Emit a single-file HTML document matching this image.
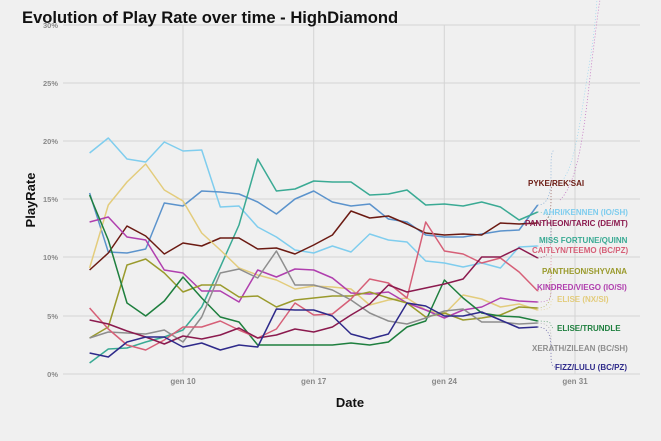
<!DOCTYPE html>
<html><head><meta charset="utf-8"><style>
html,body{margin:0;padding:0;background:#f0f0f0;}
svg{display:block;font-family:"Liberation Sans",sans-serif;}
</style></head><body>
<svg id="s" width="661" height="441" viewBox="0 0 661 441" xmlns="http://www.w3.org/2000/svg">
<rect width="661" height="441" fill="#f0f0f0"/>
<g stroke="#d4d4d4" stroke-width="1">
<line x1="63" y1="25" x2="640" y2="25"/>
<line x1="63" y1="83" x2="640" y2="83"/>
<line x1="63" y1="141" x2="640" y2="141"/>
<line x1="63" y1="199" x2="640" y2="199"/>
<line x1="63" y1="257" x2="640" y2="257"/>
<line x1="63" y1="316" x2="640" y2="316"/>
<line x1="63" y1="374" x2="640" y2="374"/>
<line x1="183" y1="25" x2="183" y2="374"/>
<line x1="313.7" y1="25" x2="313.7" y2="374"/>
<line x1="444.3" y1="25" x2="444.3" y2="374"/>
<line x1="575" y1="25" x2="575" y2="374"/>
</g>
<g font-size="7.5" font-weight="bold" fill="#8a8a8a" text-anchor="end">
<text x="58" y="28">30%</text><text x="58" y="86">25%</text><text x="58" y="144">20%</text>
<text x="58" y="202">15%</text><text x="58" y="260">10%</text><text x="58" y="319">5%</text><text x="58" y="377">0%</text>
</g>
<g font-size="8" font-weight="bold" fill="#8a8a8a" text-anchor="middle">
<text x="183" y="384">gen 10</text><text x="313.7" y="384">gen 17</text><text x="444.3" y="384">gen 24</text><text x="575" y="384">gen 31</text>
</g>
<text x="22" y="23" font-size="16.6" font-weight="bold" fill="#111">Evolution of Play Rate over time - HighDiamond</text>
<text x="350" y="407" font-size="13" font-weight="bold" fill="#111" text-anchor="middle">Date</text>
<text transform="translate(35,200) rotate(-90)" font-size="13" font-weight="bold" fill="#111" text-anchor="middle">PlayRate</text>
<g id="dots" fill="none" stroke-width="0.7" stroke-dasharray="1,2" opacity="0.8"></g>
<g id="lines" fill="none" stroke-width="1.5" stroke-linejoin="round"></g>
<g font-size="8" font-weight="bold" id="labs">
<text x="528" y="186" fill="#6b1a12">PYKE/REK'SAI</text>
<text x="543" y="215" fill="#7fcdee">AHRI/KENNEN (IO/SH)</text>
<text x="525" y="226" fill="#8b1a4e">PANTHEON/TARIC (DE/MT)</text>
<text x="539" y="243" fill="#3aaa94">MISS FORTUNE/QUINN</text>
<text x="532" y="253" fill="#d65f77">CAITLYN/TEEMO (BC/PZ)</text>
<text x="542" y="274" fill="#9a9a2c">PANTHEON/SHYVANA</text>
<text x="537" y="290" fill="#b03fae">KINDRED/VIEGO (IO/SI)</text>
<text x="557" y="302" fill="#e3cc7c">ELISE (NX/SI)</text>
<text x="557" y="331" fill="#1e7f3e">ELISE/TRUNDLE</text>
<text x="532" y="351" fill="#8e8e8e">XERATH/ZILEAN (BC/SH)</text>
<text x="555" y="370" fill="#2e2a8a">FIZZ/LULU (BC/PZ)</text>
</g>
</svg>
<script>
var X=[];for(var d=5;d<=29;d++)X.push(183+(d-10)*18.67);
var S=[
["#7fcdee",[153,138,159,162,142,151,150,207,206,227,237,250,253,246,252,234,240,242,261,263,267,263,268,247,246],212],
["#5b93cc",[193,252,253,249,203,206,191,192,194,202,214,199,191,202,206,204,219,222,235,237,237,234,231,230,205],150],
["#3aaa94",[363,349,348,342,337,330,307,267,225,159,191,189,181,182,182,195,194,190,205,204,206,202,207,220,212],240],
["#6b1a12",[270,253,226,236,254,243,246,238,238,249,248,254,245,235,211,218,216,224,233,235,234,235,223,224,223],183],
["#e3cc7c",[268,205,182,164,190,201,233,250,268,275,280,289,286,287,289,305,300,298,310,314,295,299,307,304,310],299],
["#b03fae",[222,217,237,240,270,273,291,291,302,270,277,269,270,278,293,294,292,303,310,318,310,307,298,301,302],287],
["#9a9a2c",[338,327,265,259,273,292,285,285,297,296,307,300,298,296,296,292,298,303,317,313,320,318,315,307,308],271],
["#1e7f3e",[195,240,303,316,301,277,298,317,322,345,345,345,345,345,343,345,342,327,321,280,298,313,316,317,321],328],
["#8e8e8e",[338,332,333,334,330,342,317,273,269,278,251,285,285,290,300,313,321,324,318,311,309,322,322,324,323],348],
["#d65f77",[308,329,345,350,340,327,327,321,330,338,329,303,315,314,299,279,283,298,222,251,254,263,258,272,291],250],
["#8b1a4e",[320,324,331,337,344,336,339,335,328,338,335,329,332,327,315,304,285,292,288,284,279,257,257,248,258],223],
["#2e2a8a",[353,357,342,337,337,347,343,350,345,347,309,310,310,316,334,339,334,303,306,316,316,312,320,328,327],367]
];
var ns="http://www.w3.org/2000/svg",L=document.getElementById("lines"),D=document.getElementById("dots");
S.forEach(function(s){
 var p=document.createElementNS(ns,"polyline");
 p.setAttribute("points",s[1].map(function(y,i){return X[i].toFixed(1)+","+y}).join(" "));
 p.setAttribute("stroke",s[0]);L.appendChild(p);
 var ey=s[1][24],ty=s[2];
 var q=document.createElementNS(ns,"path");
 q.setAttribute("d","M537.7,"+ey+" C560,"+ey+" 545,"+ty+" 555,"+ty);
 q.setAttribute("stroke",s[0]);D.appendChild(q);
});
var t=document.createElementNS(ns,"path");
t.setAttribute("d","M560,183 C575,170 580,120 590,60 C595,30 596,10 597,0");
t.setAttribute("stroke","#7fcdee");D.appendChild(t);
var t2=document.createElementNS(ns,"path");
t2.setAttribute("d","M560,200 C580,180 585,120 592,60 C596,30 598,10 600,0");
t2.setAttribute("stroke","#b03fae");D.appendChild(t2);
</script>
</body></html>
